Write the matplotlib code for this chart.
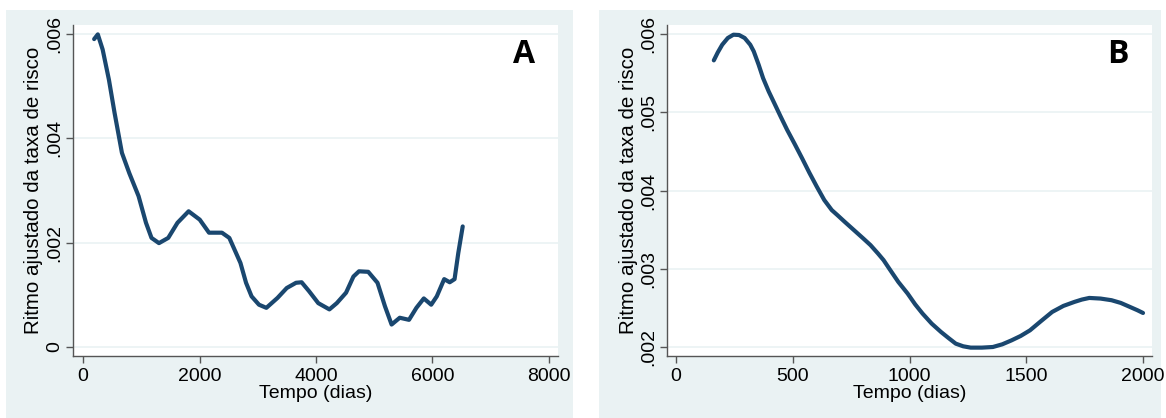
import matplotlib.pyplot as plt
from matplotlib.patches import Rectangle
from matplotlib.ticker import FuncFormatter

# Painel A: seguimento completo
dias_a = [191, 254, 337, 445, 541, 668, 795, 954, 1081, 1176, 1304, 1463, 1622, 1813,
          2004, 2163, 2385, 2512, 2703, 2799, 2894, 3021, 3148, 3339, 3498, 3657, 3753,
          3880, 4039, 4230, 4357, 4516, 4643, 4738, 4897, 5056, 5184, 5298, 5438, 5597,
          5724, 5851, 5978, 6074, 6201, 6296, 6379, 6443, 6519]
ritmo_a = [0.00590, 0.00599, 0.00570, 0.00512, 0.00449, 0.00372, 0.00333, 0.00289,
           0.00238, 0.00209, 0.00199, 0.00209, 0.00238, 0.00260, 0.00244, 0.00219,
           0.00219, 0.00209, 0.00161, 0.00123, 0.00097, 0.00081, 0.00075, 0.00094,
           0.00113, 0.00123, 0.00124, 0.00107, 0.00084, 0.00072, 0.00084, 0.00104,
           0.00135, 0.00145, 0.00144, 0.00123, 0.00078, 0.00043, 0.00056, 0.00052,
           0.00075, 0.00093, 0.00081, 0.00097, 0.00130, 0.00124, 0.00130, 0.00180,
           0.00231]

# Painel B: primeiros 2000 dias
dias_b = [162, 179, 198, 222, 246, 270, 294, 318, 333, 354, 373, 397, 421, 448, 476,
          508, 540, 571, 603, 635, 667, 691, 722, 762, 802, 833, 865, 889, 913, 952,
          992, 1024, 1056, 1095, 1135, 1167, 1198, 1230, 1262, 1310, 1357, 1397, 1437,
          1476, 1516, 1564, 1611, 1659, 1706, 1738, 1770, 1818, 1865, 1905, 1944, 1976,
          2000]
ritmo_b = [0.005663, 0.005765, 0.005863, 0.005949, 0.005991, 0.005987, 0.005949,
           0.005863, 0.005778, 0.005607, 0.005436, 0.005266, 0.005116, 0.004946,
           0.004775, 0.004596, 0.004412, 0.004228, 0.004049, 0.003878, 0.003750,
           0.003686, 0.003601, 0.003494, 0.003387, 0.003302, 0.003195, 0.003110,
           0.003003, 0.002832, 0.002683, 0.002546, 0.002427, 0.002299, 0.002192,
           0.002115, 0.002043, 0.002009, 0.001992, 0.001992, 0.002000, 0.002034,
           0.002085, 0.002141, 0.002213, 0.002333, 0.002448, 0.002525, 0.002576,
           0.002606, 0.002627, 0.002619, 0.002598, 0.002563, 0.002512, 0.002470,
           0.002435]

xticks_a = [0, 2000, 4000, 6000, 8000]
yticks_a = [0, 0.002, 0.004, 0.006]
xticks_b = [0, 500, 1000, 1500, 2000]
yticks_b = [0.002, 0.003, 0.004, 0.005, 0.006]

W, H = 1166, 418
fundo = '#eaf2f3'
linha = '#1a476f'
plt.rcParams['font.family'] = ['Liberation Sans', 'DejaVu Sans']

fig = plt.figure(figsize=(W / 100, H / 100), dpi=100)
fig.patch.set_facecolor('white')

# regioes de fundo de cada grafico (atras dos eixos)
fig.patches.append(Rectangle((6 / W, 0), 567 / W, 408 / H, transform=fig.transFigure,
                             facecolor=fundo, edgecolor='none', zorder=-5))
fig.patches.append(Rectangle((599 / W, 0), 562 / W, 408 / H, transform=fig.transFigure,
                             facecolor=fundo, edgecolor='none', zorder=-5))


def fmt_y(v, pos):
    if abs(v) < 1e-12:
        return '0'
    return ('%.3f' % v).lstrip('0')


def painel(left, x, y, xticks, yticks, xlim, ylim, letra):
    ax = fig.add_axes([left / W, 62 / H, 485 / W, 331 / H])
    ax.set_facecolor('white')
    ax.plot(x, y, color=linha, lw=3.0, solid_joinstyle='round', solid_capstyle='round')
    ax.set_xlim(*xlim)
    ax.set_ylim(*ylim)
    ax.set_xticks(xticks)
    ax.set_yticks(yticks)
    ax.yaxis.set_major_formatter(FuncFormatter(fmt_y))
    ax.grid(axis='y', color=fundo, lw=1.2)
    ax.set_axisbelow(True)
    for s in ['top', 'right']:
        ax.spines[s].set_visible(False)
    for s in ['left', 'bottom']:
        ax.spines[s].set_color('#555555')
        ax.spines[s].set_linewidth(1.0)
    ax.tick_params(axis='both', colors='#555555', labelcolor='black', length=5,
                   width=1.0, labelsize=14)
    ax.tick_params(axis='y', pad=2)
    for lbl in ax.get_yticklabels():
        lbl.set_rotation(90)
        lbl.set_va('center')
    ax.set_xlabel('Tempo (dias)', fontsize=14, labelpad=0)
    ax.set_ylabel('Ritmo ajustado da taxa de risco', fontsize=14.8, labelpad=2)
    ax.text(0.93, 0.91, letra, transform=ax.transAxes, fontsize=23, fontweight='bold',
            family='Open Sans', ha='center', va='center')
    return ax


painel(73, dias_a, ritmo_a, xticks_a, yticks_a, (-172, 8155), (-0.000173, 0.00617), 'A')
painel(667, dias_b, ritmo_b, xticks_b, yticks_b, (-38.5, 2038.5), (0.001885, 0.006115), 'B')

fig.savefig('out.png', dpi=100, facecolor='white')
